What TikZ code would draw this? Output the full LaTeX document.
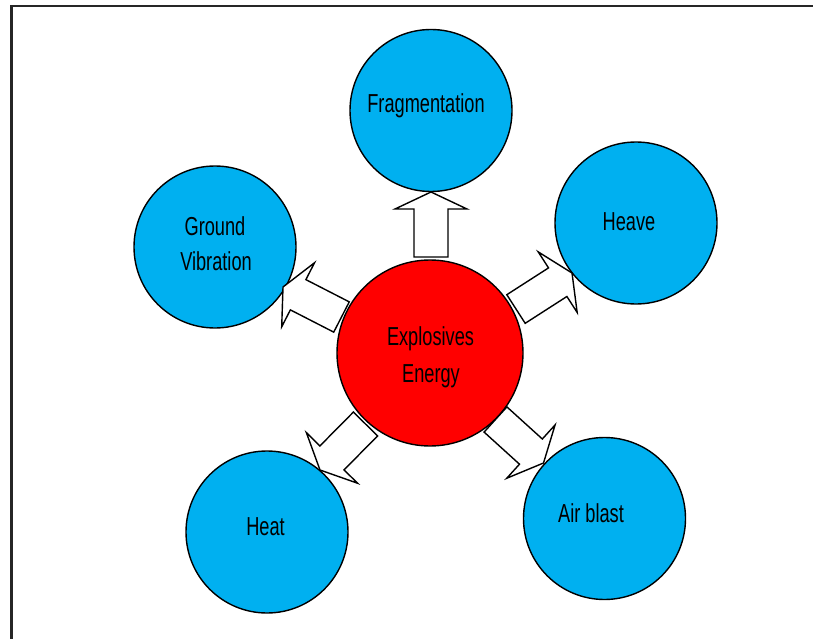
\documentclass[tikz,border=0pt]{standalone}
\usepackage{fontspec}
\setmainfont{Liberation Sans}[FakeStretch=0.7]
\usetikzlibrary{calc}
\definecolor{bubble}{HTML}{00B0F0}
\definecolor{core}{HTML}{FF0000}
\tikzset{
  bubblecirc/.style={circle, draw=black, line width=1.4pt, fill=bubble, minimum size=162pt, inner sep=0pt},
  corecirc/.style={circle, draw=black, line width=1.4pt, fill=core, minimum size=186pt, inner sep=0pt},
  lbl/.style={anchor=base, inner sep=0pt, font=\fontsize{26}{36}\selectfont, text=black},
  barrow/.style={draw=black, fill=white, line width=1.4pt, line join=miter},
  frame/.style={draw=black!85, line width=2.2pt}
}
\newcommand\myBlockArrow[2]{%
  \coordinate (#1h) at ($(#2)!17pt!(#1)$);
  \draw[barrow] ($(#1)!17pt!90:(#2)$) -- ($(#1h)!17pt!90:(#2)$) -- ($(#1h)!36pt!90:(#2)$)
    -- (#2) -- ($(#1h)!36pt!-90:(#2)$) -- ($(#1h)!17pt!-90:(#2)$) -- ($(#1)!17pt!-90:(#2)$) -- cycle;}
\begin{document}
\begin{tikzpicture}[x=1pt,y=-1pt]
\useasboundingbox (0,0) rectangle (813,639);
\draw[frame] (11.5,6) rectangle (830,660);
% circles
\node[bubblecirc] (frag) at (431,110.5) {};
\node[bubblecirc] (heave) at (636,223) {};
\node[bubblecirc] (ground) at (215,247) {};
\node[corecirc] (energy) at (430,353) {};
\node[bubblecirc] (heat) at (267,532) {};
\node[bubblecirc] (air) at (604.5,518.5) {};
% labels
\node[lbl] (fragT) at (426,113) {Fragmentation};
\node[lbl] (heaveT) at (629,230) {Heave};
\node[lbl] (groundT1) at (215,235) {Ground};
\node[lbl] (groundT2) at (216,270) {Vibration};
\node[lbl] (energyT1) at (430.5,345) {Explosives};
\node[lbl] (energyT2) at (431,382) {Energy};
\node[lbl] (heatT) at (265.5,535) {Heat};
\node[lbl] (airT) at (591,522) {Air blast};
% arrows
\coordinate (aUp) at (431,257);   \coordinate (bUp) at (431,192);
\coordinate (aHv) at (516,309);   \coordinate (bHv) at (572,273);
\coordinate (aGr) at (341.5,317); \coordinate (bGr) at (283,287);
\coordinate (aHt) at (365.5,424); \coordinate (bHt) at (320,470);
\coordinate (aAb) at (495.5,419.5); \coordinate (bAb) at (543.5,463);
\myBlockArrow{aUp}{bUp}
\myBlockArrow{aHv}{bHv}
\myBlockArrow{aGr}{bGr}
\myBlockArrow{aHt}{bHt}
\myBlockArrow{aAb}{bAb}
\end{tikzpicture}
\end{document}
